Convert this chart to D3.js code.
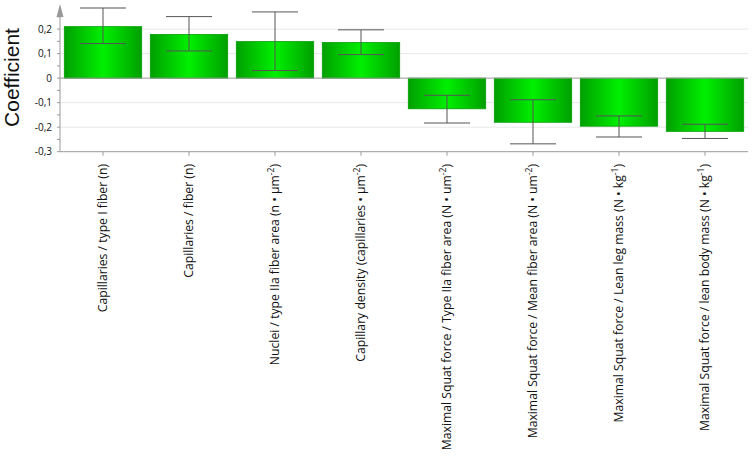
<!DOCTYPE html>
<html><head><meta charset="utf-8">
<script src="https://cdn.jsdelivr.net/npm/d3@7"></script>
<style>body{margin:0;background:#fff}</style>
</head><body>
<svg id="c" width="754" height="459"></svg>
<script>
const categories = [
  [{t:"Capillaries / type I fiber (n)"}],
  [{t:"Capillaries / fiber (n)"}],
  [{t:"Nuclei / type IIa fiber area (n • µm"},{t:"-2",sup:true},{t:")"}],
  [{t:"Capillary density (capillaries • µm"},{t:"-2",sup:true},{t:")"}],
  [{t:"Maximal Squat force / Type IIa fiber area (N • um"},{t:"-2",sup:true},{t:")"}],
  [{t:"Maximal Squat force / Mean fiber area (N • um"},{t:"-2",sup:true},{t:")"}],
  [{t:"Maximal Squat force / Lean leg mass (N • kg"},{t:"-1",sup:true},{t:")"}],
  [{t:"Maximal Squat force / lean body mass (N • kg"},{t:"-1",sup:true},{t:")"}]
];
const coefficients = [0.21, 0.178, 0.149, 0.145, -0.125, -0.18, -0.196, -0.217];
const errLow  = [0.141, 0.111, 0.031, 0.096, -0.183, -0.268, -0.240, -0.246];
const errHigh = [0.286, 0.251, 0.270, 0.197, -0.070, -0.088, -0.154, -0.188];
const yTicks = [-0.3, -0.2, -0.1, 0, 0.1, 0.2];
const yMinorTicks = [-0.3,-0.25,-0.2,-0.15,-0.1,-0.05,0,0.05,0.1,0.15,0.2,0.25];
const gridValues = [-0.2, -0.1, 0.1, 0.2];

const svg = d3.select("#c");
const x0 = 60, x1 = 748;
const y = d3.scaleLinear().domain([-0.3, 0.2]).range([151.7, 29.1]);
const x = d3.scaleBand().domain(d3.range(categories.length)).range([x0, x1]).paddingInner(0.1).paddingOuter(0.05);

const defs = svg.append("defs");
const g = defs.append("linearGradient").attr("id","gb").attr("x1","0").attr("x2","1").attr("y1","0").attr("y2","0");
g.append("stop").attr("offset","0%").attr("stop-color","#009f00");
g.append("stop").attr("offset","50%").attr("stop-color","#00f000");
g.append("stop").attr("offset","100%").attr("stop-color","#009f00");

// grid
svg.append("g").selectAll("line").data(gridValues).join("line")
  .attr("x1", x0).attr("x2", x1).attr("y1", d=>y(d)).attr("y2", d=>y(d))
  .attr("stroke", "#e8e8e8").attr("stroke-width", 1);

// bars
svg.append("g").selectAll("rect").data(coefficients).join("rect")
  .attr("x", (d,i)=>x(i)).attr("width", x.bandwidth())
  .attr("y", d=>y(Math.max(0,d))).attr("height", d=>Math.abs(y(d)-y(0)))
  .attr("fill", "url(#gb)").attr("stroke", "#00a000").attr("stroke-width", 0.8);

// zero line
svg.append("line").attr("x1", x0).attr("x2", x1).attr("y1", y(0)).attr("y2", y(0))
  .attr("stroke", "#999").attr("stroke-width", 1);

// error bars
const eb = svg.append("g").attr("stroke", "#555").attr("stroke-width", 1);
const cap = 23;
categories.forEach((c,i)=>{
  const cx = x(i) + x.bandwidth()/2;
  eb.append("line").attr("x1",cx).attr("x2",cx).attr("y1",y(errLow[i])).attr("y2",y(errHigh[i]));
  eb.append("line").attr("x1",cx-cap).attr("x2",cx+cap).attr("y1",y(errLow[i])).attr("y2",y(errLow[i]));
  eb.append("line").attr("x1",cx-cap).attr("x2",cx+cap).attr("y1",y(errHigh[i])).attr("y2",y(errHigh[i]));
});

// y axis
const yAxis = svg.append("g");
yAxis.append("line").attr("x1", x0).attr("x2", x0).attr("y1", y(-0.3)).attr("y2", 10).attr("stroke", "#999");
yAxis.append("path").attr("d", `M${x0-3.5},17 L${x0},4 L${x0+3.5},17 Z`).attr("fill", "#999");
yAxis.selectAll("line.mt").data(yMinorTicks).join("line").attr("class","mt")
  .attr("x1", x0-3).attr("x2", x0).attr("y1", d=>y(d)).attr("y2", d=>y(d)).attr("stroke", "#999");
yAxis.selectAll("text").data(yTicks).join("text")
  .attr("x", 52).attr("y", d=>y(d)).attr("dy", "0.35em").attr("text-anchor", "end")
  .attr("font-family", "'Open Sans', sans-serif").attr("font-size", 10).attr("fill", "#111")
  .text(d => d === 0 ? "0" : d3.format(".1f")(d).replace("−","-").replace(".", ","));

// x axis
svg.append("line").attr("x1", x0).attr("x2", x1).attr("y1", y(-0.3)).attr("y2", y(-0.3)).attr("stroke", "#999");
svg.append("g").selectAll("line").data(categories).join("line")
  .attr("x1", (d,i)=>x(i)+x.bandwidth()/2).attr("x2", (d,i)=>x(i)+x.bandwidth()/2)
  .attr("y1", y(-0.3)).attr("y2", y(-0.3)+4).attr("stroke", "#999");

// category labels
const lab = svg.append("g");
categories.forEach((c,i)=>{
  const cx = x(i) + x.bandwidth()/2;
  const t = lab.append("text")
    .attr("transform", `translate(${cx},164) rotate(-90)`)
    .attr("text-anchor", "end").attr("dy", "0.35em")
    .attr("font-family", "'Open Sans', sans-serif").attr("font-size", 12.2).attr("fill", "#111");
  c.forEach(p=>{
    const ts = t.append("tspan").text(p.t);
    if (p.sup) ts.attr("font-size", 8.5).attr("baseline-shift", "super");
  });
});

// y title
svg.append("text").attr("transform", `translate(19,77.5) rotate(-90)`)
  .attr("text-anchor", "middle").attr("font-family", "'Liberation Sans', Arial, sans-serif")
  .attr("font-size", 21).attr("fill", "#111").text("Coefficient");
</script>
</body></html>
